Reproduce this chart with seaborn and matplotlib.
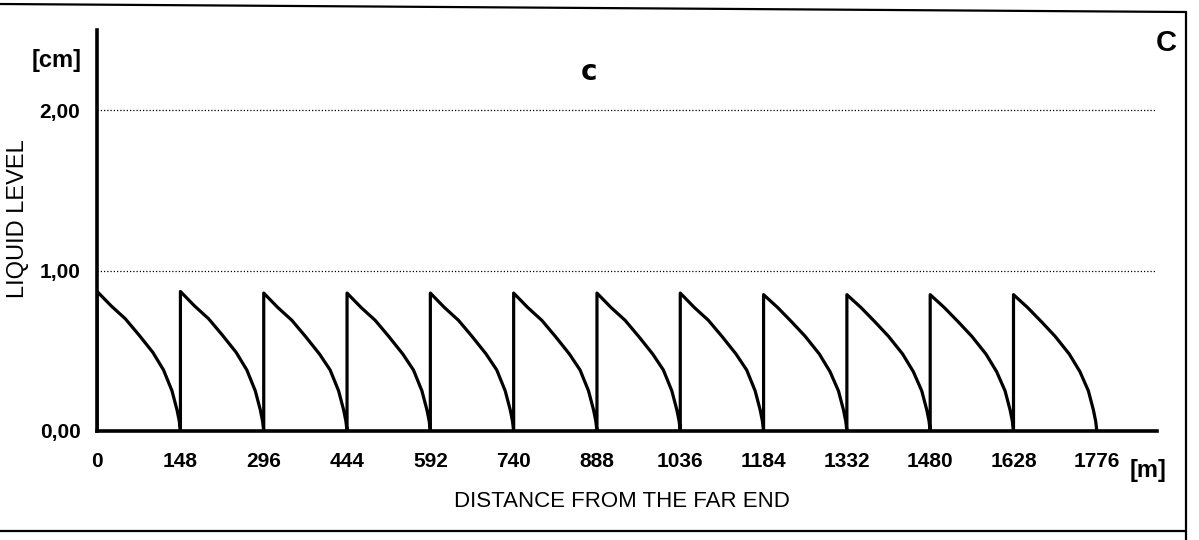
import matplotlib
matplotlib.use("Agg")
import matplotlib.pyplot as plt
from matplotlib.lines import Line2D
import seaborn as sns
import pandas as pd

# ---- data ----
segment_starts_m = [0, 148, 296, 444, 592, 740, 888, 1036, 1184, 1332, 1480, 1628]
profile_offsets_m = [0, 25, 50, 74, 99, 118, 133, 142, 146, 148]
segment_levels_cm = [
    [0.87, 0.78, 0.70, 0.60, 0.49, 0.38, 0.25, 0.13, 0.06, 0.0],
    [0.87, 0.78, 0.70, 0.60, 0.49, 0.38, 0.25, 0.13, 0.06, 0.0],
    [0.86, 0.77, 0.69, 0.59, 0.48, 0.38, 0.25, 0.13, 0.06, 0.0],
    [0.86, 0.77, 0.69, 0.59, 0.48, 0.38, 0.25, 0.13, 0.06, 0.0],
    [0.86, 0.77, 0.69, 0.59, 0.48, 0.38, 0.25, 0.13, 0.06, 0.0],
    [0.86, 0.77, 0.69, 0.59, 0.48, 0.38, 0.25, 0.13, 0.06, 0.0],
    [0.86, 0.77, 0.69, 0.59, 0.48, 0.38, 0.25, 0.13, 0.06, 0.0],
    [0.86, 0.77, 0.69, 0.59, 0.48, 0.38, 0.25, 0.13, 0.06, 0.0],
    [0.85, 0.77, 0.68, 0.59, 0.48, 0.37, 0.25, 0.13, 0.06, 0.0],
    [0.85, 0.77, 0.68, 0.59, 0.48, 0.37, 0.25, 0.13, 0.06, 0.0],
    [0.85, 0.77, 0.68, 0.59, 0.48, 0.37, 0.25, 0.13, 0.06, 0.0],
    [0.85, 0.77, 0.68, 0.59, 0.48, 0.37, 0.25, 0.13, 0.06, 0.0],
]
x_ticks = [0, 148, 296, 444, 592, 740, 888, 1036, 1184, 1332, 1480, 1628, 1776]
x_tick_labels = ["0", "148", "296", "444", "592", "740", "888", "1036",
                 "1184", "1332", "1480", "1628", "1776"]
y_ticks = [0.0, 1.0, 2.0]
y_tick_labels = ["0,00", "1,00", "2,00"]
grid_levels = [1.0, 2.0]

# build the sawtooth path (vertical rise at each segment start)
xs, ys = [0], [0.0]
for start, levels in zip(segment_starts_m, segment_levels_cm):
    for off, lv in zip(profile_offsets_m, levels):
        xs.append(start + off)
        ys.append(lv)
df = pd.DataFrame({"distance": xs, "level": ys})

sns.set_theme(style="white")
plt.rcParams["font.family"] = ["Liberation Sans", "DejaVu Sans"]

fig = plt.figure(figsize=(11.99, 5.40), dpi=100)
ax = fig.add_axes([0.081, 0.202, 0.884, 0.742])

sns.lineplot(data=df, x="distance", y="level", sort=False, estimator=None,
             color="black", linewidth=2.3, ax=ax)
for ln in ax.get_lines():
    ln.set_solid_joinstyle("round")

for g in grid_levels:
    ax.axhline(g, color="black", linestyle=(0, (1, 1.6)), linewidth=0.9, zorder=0)

ax.set_xlim(0, 1883)
ax.set_ylim(0, 2.5)
ax.set_xticks(x_ticks)
ax.set_xticklabels(x_tick_labels, fontweight="bold", fontsize=15)
ax.set_yticks(y_ticks)
ax.set_yticklabels(y_tick_labels, fontweight="bold", fontsize=15)
ax.tick_params(axis="x", length=0, pad=15, colors="black")
ax.tick_params(axis="y", direction="in", length=6, width=2.5, pad=12, colors="black")

for side in ["top", "right"]:
    ax.spines[side].set_visible(False)
for side in ["left", "bottom"]:
    ax.spines[side].set_color("black")
    ax.spines[side].set_linewidth(2.6)

ax.set_xlabel("DISTANCE FROM THE FAR END", fontsize=16, color="black")
ax.xaxis.set_label_coords(0.495, -0.15)
ax.set_ylabel("LIQUID LEVEL", fontsize=17, color="black")
ax.yaxis.label.set_va("center")
ax.yaxis.set_label_coords(-0.0745, 0.53)

W, H = 1199, 540
def ft(x, y, s, **kw):
    fig.text(x / W, 1 - y / H, s, ha="center", va="center", color="black", **kw)

ft(57, 60, "[cm]", fontsize=17, fontweight="bold")
ft(589, 72, "c", fontsize=20, fontweight="bold", family=["DejaVu Sans"])
ft(1166, 43, "C", fontsize=21, fontweight="bold")
ft(1148, 470, "[m]", fontsize=17, fontweight="bold")

# scanned frame lines
fig.add_artist(Line2D([0, 1186 / W], [1 - 4 / H, 1 - 12 / H], transform=fig.transFigure,
                      color="black", linewidth=1.6))
fig.add_artist(Line2D([1186 / W, 1186 / W], [1 - 12 / H, 0], transform=fig.transFigure,
                      color="black", linewidth=1.6))
fig.add_artist(Line2D([0, 1186 / W], [1 - 531 / H, 1 - 531 / H], transform=fig.transFigure,
                      color="black", linewidth=1.6))

fig.savefig("out.png", dpi=100, facecolor="white")
